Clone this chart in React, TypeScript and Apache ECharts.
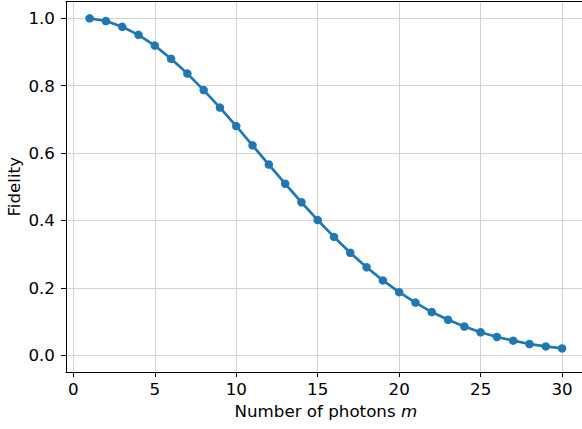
import React, { useEffect, useRef } from "react";
import * as echarts from "echarts";

const photons = Array.from({ length: 30 }, (_, i) => i + 1);
const fidelity = [
  1.0, 0.992, 0.975, 0.951, 0.919, 0.88, 0.836, 0.787, 0.735, 0.68,
  0.623, 0.566, 0.509, 0.454, 0.401, 0.351, 0.304, 0.261, 0.222, 0.187,
  0.156, 0.128, 0.105, 0.085, 0.068, 0.054, 0.043, 0.033, 0.026, 0.02,
];
const xTicks = [0, 5, 10, 15, 20, 25, 30];
const yTicks = [0, 0.2, 0.4, 0.6, 0.8, 1.0];

export default function App() {
  const ref = useRef<HTMLDivElement>(null);
  useEffect(() => {
    if (!ref.current) return;
    const chart = echarts.init(ref.current, null, { renderer: "svg" });
    const font = "DejaVu Sans";
    const fs = 16.7;
    chart.setOption({
      animation: false,
      grid: {
        left: 66,
        top: 1.5,
        width: 519.7,
        height: 370.5,
        show: false,
        outerBoundsMode: "none",
        containLabel: false,
      },
      xAxis: [
        {
          type: "value",
          min: -0.45,
          max: 31.45,
          axisLine: { show: true, onZero: false, lineStyle: { color: "#000", width: 1 } },
          axisTick: { show: true, customValues: xTicks, length: 5, lineStyle: { color: "#000", width: 1 } },
          axisLabel: {
            customValues: xTicks,
            color: "#000",
            fontFamily: font,
            fontSize: fs,
            margin: 8,
          },
          splitLine: { show: true, lineStyle: { color: "#d3d3d3", width: 1 } },
          name: "Number of photons {i|m}",
          nameLocation: "middle",
          nameGap: 30,
          nameMoveOverlap: false,
          nameTextStyle: {
            color: "#000",
            fontFamily: font,
            fontSize: fs,
            rich: { i: { fontStyle: "italic", fontFamily: font, fontSize: fs, color: "#000" } },
          },
        },
        {
          type: "value",
          position: "top",
          min: -0.45,
          max: 31.45,
          axisLine: { show: true, onZero: false, lineStyle: { color: "#000", width: 1 } },
          axisTick: { show: false },
          axisLabel: { show: false },
          splitLine: { show: false },
        },
      ],
      yAxis: {
        type: "value",
        min: -0.05,
        max: 1.05,
        axisLine: { show: true, onZero: false, lineStyle: { color: "#000", width: 1 } },
        axisTick: { show: true, customValues: yTicks, length: 5, lineStyle: { color: "#000", width: 1 } },
        axisLabel: {
          customValues: yTicks,
          color: "#000",
          fontFamily: font,
          fontSize: fs,
          margin: 11,
          formatter: (v: number) => v.toFixed(1),
        },
        splitLine: { show: true, lineStyle: { color: "#d3d3d3", width: 1 } },
        name: "Fidelity",
        nameLocation: "middle",
        nameGap: 44,
        nameRotate: 90,
        nameMoveOverlap: false,
        nameTextStyle: { color: "#000", fontFamily: font, fontSize: fs },
      },
      series: [
        {
          type: "line",
          xAxisIndex: 0,
          data: photons.map((m, i) => [m, fidelity[i]]),
          symbol: "circle",
          symbolSize: 8.5,
          showAllSymbol: true,
          itemStyle: { color: "#1f77b4" },
          lineStyle: { color: "#1f77b4", width: 2.7 },
          clip: false,
        },
      ],
    });
    return () => chart.dispose();
  }, []);
  return (
    <div
      ref={ref}
      style={{ position: "fixed", left: 0, top: 0, width: 582, height: 429, background: "#fff" }}
    />
  );
}
